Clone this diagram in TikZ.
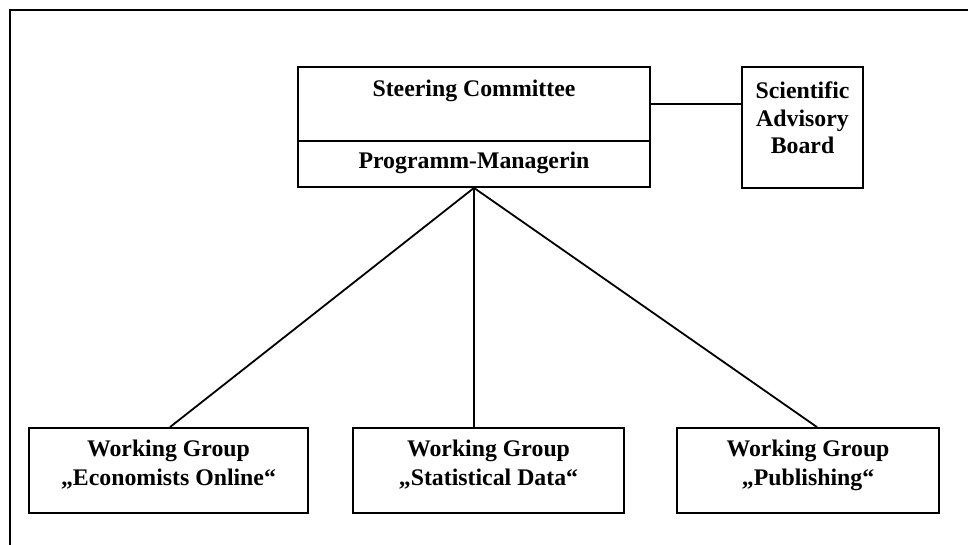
\documentclass[tikz,border=0pt]{standalone}
\usepackage{fontspec}
\setmainfont{Liberation Serif}
\begin{document}
\begin{tikzpicture}[x=1pt,y=-1pt,
  box/.style={draw, line width=1.8pt, inner sep=0pt},
  lbl/.style={font=\fontsize{23.8}{28}\selectfont\bfseries, align=center, inner sep=0pt},
  link/.style={line width=1.8pt}]
\useasboundingbox (0,0) rectangle (968,545);
% outer frame (open to the right and below)
\draw[line width=2.4pt] (968,10) -- (10,10) -- (10,545);

% steering committee with programme manager below
\node[box, minimum width=352pt, minimum height=74pt] (sc) at (474,104) {};
\node[box, minimum width=352pt, minimum height=46pt] (pm) at (474,164) {};
\node[lbl] (sct) at (474,91) {Steering Committee};
\node[lbl] (pmt) at (474,163) {Programm-Managerin};

% advisory board
\node[box, minimum width=121pt, minimum height=121pt] (sab) at (802.5,127.5) {};
\node[lbl, font=\fontsize{23.8}{27.5}\selectfont\bfseries] (sabt) at (802.5,118) {Scientific\\Advisory\\Board};

% working groups
\node[box, minimum width=279pt, minimum height=85pt] (wg1) at (168.5,470.5) {};
\node[box, minimum width=271pt, minimum height=85pt] (wg2) at (488.5,470.5) {};
\node[box, minimum width=262pt, minimum height=85pt] (wg3) at (808,470.5) {};
\node[lbl, font=\fontsize{23.8}{29}\selectfont\bfseries] (wg1t) at (168.5,465) {Working Group\\„Economists Online“};
\node[lbl, font=\fontsize{23.8}{29}\selectfont\bfseries] (wg2t) at (488.5,465) {Working Group\\„Statistical Data“};
\node[lbl, font=\fontsize{23.8}{29}\selectfont\bfseries] (wg3t) at (808,465) {Working Group\\„Publishing“};

% connectors
\draw[link] (sc.east |- sc.center) -- (sab.west |- sc.center);
\draw[link] (pm.south) -- ([xshift=1.5pt]wg1.north);
\draw[link] (pm.south) -- (pm.south |- wg2.north);
\draw[link] (pm.south) -- ([xshift=9pt]wg3.north);
\end{tikzpicture}
\end{document}
